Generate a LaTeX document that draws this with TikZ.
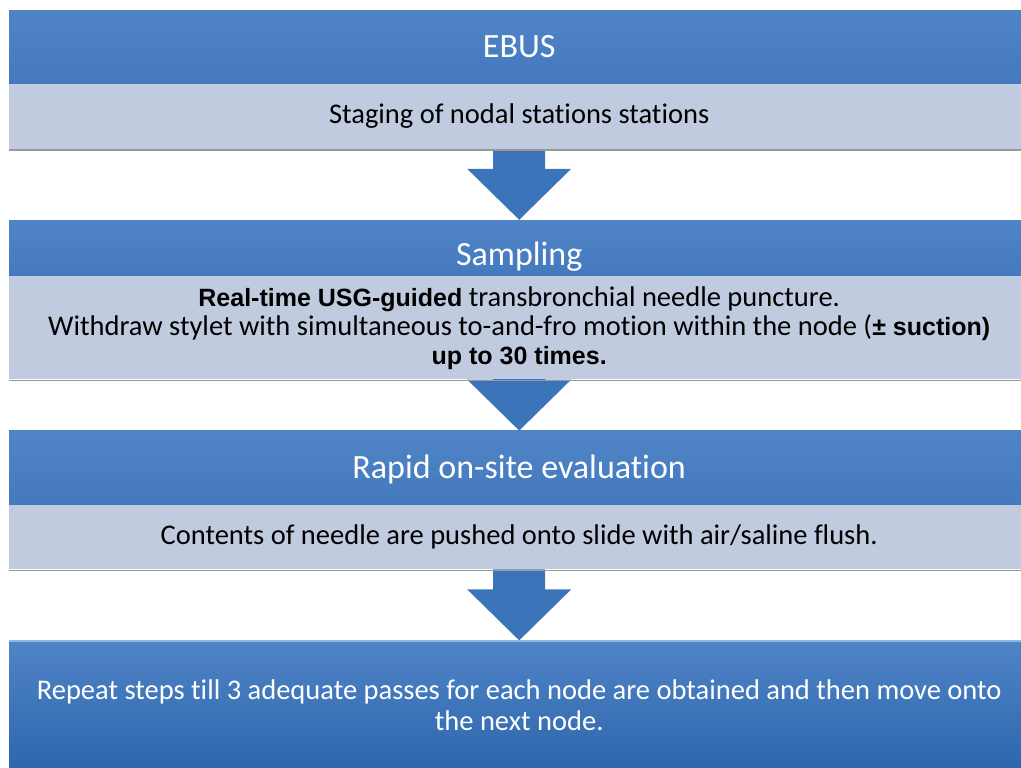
\documentclass[tikz,border=0pt]{standalone}
\usepackage{fontspec}
\setmainfont{Carlito}[Ligatures=NoCommon]
\newfontfamily\arialfont{Liberation Sans}
\usepackage{xcolor}
\usepackage{tikz}
\usetikzlibrary{positioning}
\usetikzlibrary{calc}
\usetikzlibrary{backgrounds}

\definecolor{headblue}{HTML}{4F84C6}
\definecolor{headdark}{HTML}{4479BE}
\definecolor{subgrey}{HTML}{C1CBDF}
\definecolor{arrowblue}{HTML}{3C74B9}
\definecolor{lastdark}{HTML}{2E66AD}
\definecolor{lastlight}{HTML}{8DB8E6}

\newcommand{\usgbold}[1]{{\arialfont\bfseries\fontsize{25}{29}\selectfont #1}}

\tikzset{
  bar/.style={rectangle, inner sep=0pt, minimum width=1020pt, text=white,
    top color=headblue, bottom color=headdark, text height=22pt, text depth=0pt,
    font=\fontsize{34}{40}\selectfont},
  subbox/.style={rectangle, inner sep=0pt, minimum width=1020pt, fill=subgrey,
    align=center, font=\fontsize{28.5}{29}\selectfont},
  shade line/.style={draw=black!40, line width=1.5pt},
  arrowfill/.style={fill=arrowblue}
}

\begin{document}
\begin{tikzpicture}[x=1pt, y=-1pt]
    \useasboundingbox (0,0) rectangle (1021,768);
    \node[bar, minimum height=73pt, anchor=north west] (ebus) at (9,10) {EBUS};
    \node[subbox, minimum height=65pt, below=0pt of ebus] (staging) {Staging of nodal stations stations};
    \node[bar, minimum height=56pt, text height=35pt, below=71pt of staging] (sampling) {Sampling};
    \node[subbox, minimum height=103pt, below=0pt of sampling] (puncture)
      {\usgbold{Real-time USG-guided} transbronchial needle puncture.\\
       Withdraw stylet with simultaneous to-and-fro motion within the node (\usgbold{± suction)}\\
       \usgbold{up to 30 times.}};
    \node[bar, minimum height=74pt, below=51pt of puncture] (rose) {Rapid on-site evaluation};
    \node[subbox, minimum height=64pt, below=0pt of rose] (flush) {Contents of needle are pushed onto slide with air/saline flush.};
    \node[bar, minimum height=130pt, below=71pt of flush, bottom color=lastdark, text height=, text depth=,
      align=center, font=\fontsize{28.5}{31}\selectfont] (repeat)
      {Repeat steps till 3 adequate passes for each node are obtained and then move onto\\ the next node.};
    \draw[lastlight, line width=2pt] ($(repeat.north west)+(0,1)$) -- ($(repeat.north east)+(0,1)$);
    \foreach \nd in {staging, puncture, flush}
      \draw[shade line] ($(\nd.south west)+(0,1)$) -- ($(\nd.south east)+(0,1)$);
    \begin{scope}[on background layer]
      \foreach \a/\b/\s in {staging/sampling/0, puncture/rose/20, flush/repeat/0}
        \fill[arrowfill] let \p1=($(\a.south)+(0,-\s)$), \p2=(\b.north) in
          (\x1-26pt,\y1) -- (\x1+26pt,\y1) -- (\x1+26pt,\y2+51pt) -- (\x1+52pt,\y2+51pt)
          -- (\x1,\y2) -- (\x1-52pt,\y2+51pt) -- (\x1-26pt,\y2+51pt) -- cycle;
    \end{scope}
\end{tikzpicture}
\end{document}
